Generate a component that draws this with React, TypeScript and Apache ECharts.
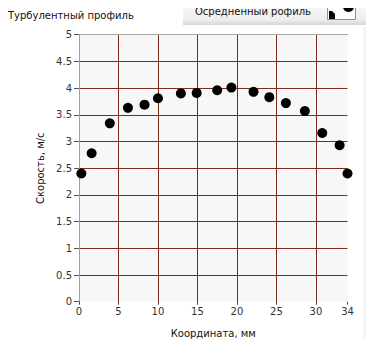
import React, { useEffect, useRef } from "react";
import * as echarts from "echarts";

const titleText = "Турбулентный профиль";
const legendText = "Осредненный рофиль";
const xAxisName = "Координата, мм";
const yAxisName = "Скорость, м/с";

const coordinates = [0.3, 1.6, 3.9, 6.2, 8.3, 10.0, 12.9, 14.9, 17.5, 19.3, 22.1, 24.1, 26.2, 28.6, 30.8, 33.0, 34.0];
const velocities = [2.40, 2.78, 3.34, 3.63, 3.69, 3.81, 3.90, 3.91, 3.96, 4.01, 3.93, 3.83, 3.72, 3.57, 3.16, 2.93, 2.40];

const FONT = "DejaVu Sans";
const GRID = "#7f2d1a";

export default function App() {
  const ref = useRef<HTMLDivElement>(null);
  useEffect(() => {
    if (!ref.current) return;
    const chart = echarts.init(ref.current, undefined, { renderer: "svg" });
    const data = coordinates.map((x, i) => [x, velocities[i]]);
    chart.setOption({
      animation: false,
      backgroundColor: "#ffffff",
      grid: {
        left: 79,
        right: 26.5,
        top: 34.7,
        bottom: 45.3,
        show: true,
        backgroundColor: "#f7f7f7",
        borderWidth: 0,
      },
      graphic: [
        {
          type: "rect",
          shape: { x: 362, y: 27, width: 12, height: 313 },
          style: {
            fill: new echarts.graphic.LinearGradient(0, 0, 1, 0, [
              { offset: 0, color: "#ffffff" },
              { offset: 1, color: "#cfcfcf" },
            ]),
          },
          silent: true,
        },
        {
          type: "rect",
          shape: { x: 0, y: 340, width: 374, height: 7 },
          style: {
            fill: new echarts.graphic.LinearGradient(0, 0, 0, 1, [
              { offset: 0, color: "#c4c4c4" },
              { offset: 0.3, color: "#e6e6e6" },
              { offset: 1, color: "#f4f4f4" },
            ]),
          },
          silent: true,
        },
        {
          type: "rect",
          shape: { x: 183, y: 0, width: 191, height: 25 },
          style: {
            fill: new echarts.graphic.LinearGradient(0, 0, 0, 1, [
              { offset: 0, color: "#fbfbfb" },
              { offset: 0.8, color: "#eeeeee" },
              { offset: 1, color: "#d4d4d4" },
            ]),
          },
          silent: true,
        },
        {
          type: "rect",
          shape: { x: 368, y: 0, width: 6, height: 25 },
          style: {
            fill: new echarts.graphic.LinearGradient(0, 0, 1, 0, [
              { offset: 0, color: "#e8e8e8" },
              { offset: 1, color: "#bdbdbd" },
            ]),
          },
          silent: true,
        },
        {
          type: "text",
          left: 8,
          top: 10,
          style: { text: titleText, font: `10px '${FONT}'`, fill: "#111111" },
        },
        {
          type: "text",
          left: 195,
          top: 6,
          style: { text: legendText, font: `10px '${FONT}'`, fill: "#111111" },
        },
        {
          type: "rect",
          shape: { x: 327.5, y: 1.5, width: 28, height: 18 },
          style: { fill: "#ffffff" },
          silent: true,
        },
        {
          type: "circle",
          shape: { cx: 348.5, cy: 6.5, r: 5.5 },
          style: { fill: "#000000" },
          silent: true,
        },
        {
          type: "rect",
          shape: { x: 340, y: 0, width: 16, height: 3.5 },
          style: { fill: "#ffffff" },
          silent: true,
        },
        {
          type: "polygon",
          shape: { points: [[329, 11], [332, 11], [335, 14], [335, 19.5], [329, 19.5]] },
          style: { fill: "#000000" },
          silent: true,
        },
        {
          type: "rect",
          shape: { x: 327.5, y: 1.5, width: 28, height: 18 },
          style: { fill: "none", stroke: "#909090", lineWidth: 1 },
          silent: true,
        },
      ],
      xAxis: [
        {
          type: "value",
          min: 0,
          max: 34,
          interval: 5,
          name: xAxisName,
          nameLocation: "middle",
          nameGap: 27,
          nameTextStyle: { fontFamily: FONT, fontSize: 10, color: "#111111" },
          axisLine: { show: false },
          axisTick: { show: true, length: 3, lineStyle: { color: "#444444" } },
          axisLabel: { fontFamily: FONT, fontSize: 10, color: "#333333", margin: 5, showMaxLabel: true },
          splitLine: { show: true, showMinLine: false, showMaxLine: false, lineStyle: { color: GRID, width: 1 } },
        },
        {
          type: "value",
          position: "top",
          min: 0,
          max: 34,
          interval: 5,
          axisLine: { show: true, lineStyle: { color: "#a8a8a8", width: 1 } },
          axisTick: { show: false },
          axisLabel: { show: false },
          splitLine: { show: false },
        },
      ],
      yAxis: {
        type: "value",
        min: 0,
        max: 5,
        interval: 0.5,
        name: yAxisName,
        nameLocation: "middle",
        nameGap: 27,
        nameTextStyle: { fontFamily: FONT, fontSize: 10, color: "#111111" },
        axisLine: { show: true, lineStyle: { color: "#a0a0a0", width: 1 } },
        axisTick: { show: true, length: 5, lineStyle: { color: "#555555" } },
        axisLabel: { fontFamily: FONT, fontSize: 10, color: "#333333", margin: 7 },
        splitLine: { show: true, showMinLine: false, showMaxLine: false, lineStyle: { color: GRID, width: 1 } },
      },
      series: [
        {
          type: "scatter",
          name: legendText,
          data,
          symbol: "circle",
          symbolSize: 10,
          clip: true,
          itemStyle: { color: "#000000", opacity: 1 },
        },
      ],
    });
    return () => chart.dispose();
  }, []);
  return <div ref={ref} style={{ width: 374, height: 347, margin: -8 }} />;
}
